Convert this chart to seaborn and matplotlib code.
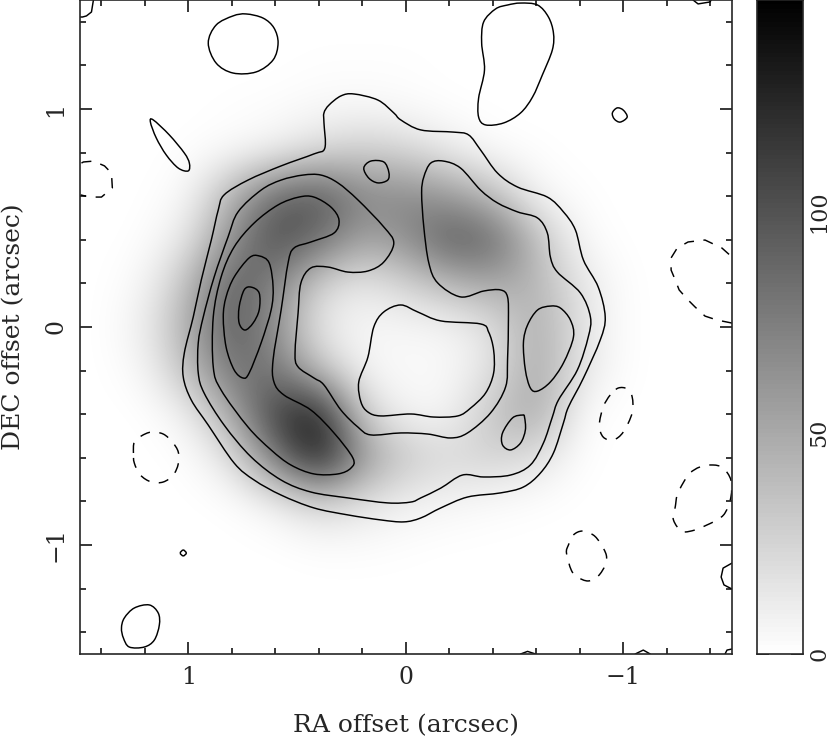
import numpy as np
import matplotlib
matplotlib.use('Agg')
import matplotlib.pyplot as plt
from matplotlib.patches import PathPatch
from matplotlib.path import Path
from matplotlib.ticker import MultipleLocator, FixedLocator
import seaborn as sns

grid_ra = [1.6, 1.4, 1.2, 1.0, 0.8, 0.6, 0.4, 0.2, 0.0, -0.2, -0.4, -0.6, -0.8, -1.0, -1.2, -1.4, -1.6]
grid_dec = grid_ra
flux = [
    [0, 0, 0, 0, 0, 0, 0, 0, 0, 0, 0, 0, 0, 0, 0, 0, 0],
    [0, 0, 0, 0, 0, 0, 0, 0, 0, 0, 0, 0, 0, 0, 0, 0, 0],
    [0, 0, 0, 0, 0, 0, 1, 1, 1, 0, 0, 0, 0, 0, 0, 0, 0],
    [0, 0, 0, 0, 1, 2, 4, 5, 3, 1, 0, 0, 0, 0, 0, 0, 0],
    [0, 0, 0, 1, 4, 9, 22, 30, 25, 12, 3, 1, 0, 0, 0, 0, 0],
    [0, 0, 0, 5, 45, 90, 100, 70, 70, 60, 38, 6, 1, 0, 0, 0, 0],
    [0, 0, 1, 15, 65, 105, 85, 52, 65, 98, 90, 38, 4, 0, 0, 0, 0],
    [0, 0, 5, 38, 95, 72, 25, 12, 25, 40, 52, 43, 15, 1, 0, 0, 0],
    [0, 0, 10, 48, 98, 64, 12, 5, 5, 6, 17, 50, 17, 1, 0, 0, 0],
    [0, 0, 5, 38, 81, 81, 35, 6, 3, 4, 17, 52, 15, 1, 0, 0, 0],
    [0, 0, 0, 9, 50, 113, 135, 26, 6, 6, 35, 52, 3, 0, 0, 0, 0],
    [0, 0, 0, 1, 17, 78, 135, 61, 32, 23, 26, 17, 1, 0, 0, 0, 0],
    [0, 0, 0, 0, 1, 9, 26, 17, 9, 6, 3, 1, 0, 0, 0, 0, 0],
    [0, 0, 0, 0, 0, 0, 2, 2, 1, 0, 0, 0, 0, 0, 0, 0, 0],
    [0, 0, 0, 0, 0, 0, 0, 0, 0, 0, 0, 0, 0, 0, 0, 0, 0],
    [0, 0, 0, 0, 0, 0, 0, 0, 0, 0, 0, 0, 0, 0, 0, 0, 0],
    [0, 0, 0, 0, 0, 0, 0, 0, 0, 0, 0, 0, 0, 0, 0, 0, 0],
]

# contours (arcsec)
outer_ra = [.239, .298, .353, .376, .376, .372, .422, .573, .725, .835, .862, .894, .940, .977, 1.018, 1.023, .986, .908, .789, .697, .573, .422, .266, .115, .009, -.069, -.161, -.284, -.436, -.541, -.619, -.679, -.725, -.748, -.817, -.894, -.917, -.885, -.817, -.780, -.725, -.651, -.514, -.422, -.344, -.289, -.220, -.069, .023, .055, .128]
outer_dec = [1.069, 1.060, 1.018, .982, .936, .821, .794, .739, .674, .606, .537, .399, .216, .046, -.119, -.229, -.335, -.450, -.624, -.702, -.771, -.830, -.862, -.885, -.894, -.876, -.830, -.780, -.761, -.734, -.670, -.578, -.440, -.367, -.234, -.060, .046, .183, .307, .445, .528, .596, .642, .706, .812, .881, .894, .904, .950, .982, 1.041]

ring_ra = [.390, .472, .573, .665, .771, .817, .881, .931, .954, .954, .927, .835, .711, .573, .436, .266, .083, -.023, -.069, -.161, -.261, -.358, -.482, -.573, -.633, -.674, -.702, -.789, -.839, -.849, -.803, -.697, -.665, -.651, -.606, -.514, -.422, -.344, -.252, -.174, -.115, -.083, -.073, -.083, -.106, -.147, -.252, -.358, -.436, -.468, -.472, -.468, -.459, -.390, -.284, -.206, -.101, .023, .161, .220, .298, .376, .422, .495, .509, .495, .482, .436, .358, .266, .174, .101, .055, .101, .220, .312]
ring_dec = [.697, .697, .674, .628, .528, .413, .229, .046, -.073, -.211, -.303, -.450, -.596, -.702, -.757, -.784, -.807, -.803, -.784, -.739, -.679, -.688, -.679, -.633, -.532, -.413, -.335, -.197, -.046, .046, .156, .252, .321, .431, .500, .528, .569, .628, .729, .761, .752, .688, .615, .459, .294, .202, .138, .165, .170, .138, .032, -.151, -.275, -.394, -.486, -.509, -.491, -.486, -.495, -.459, -.381, -.266, -.234, -.183, -.119, .064, .202, .271, .275, .252, .257, .298, .385, .459, .583, .661]

arc_ra = [.422, .491, .587, .697, .789, .849, .885, .885, .849, .725, .619, .528, .422, .312, .252, .243, .330, .436, .560, .606, .610, .573, .541, .514, .436, .330, .307, .344]
arc_dec = [.596, .596, .560, .477, .367, .229, .046, -.183, -.289, -.459, -.564, -.633, -.674, -.674, -.647, -.601, -.486, -.381, -.312, -.252, -.151, .078, .294, .362, .390, .431, .491, .550]

left_ra = [.674, .720, .789, .826, .839, .826, .789, .748, .720, .665, .619, .610, .628]
left_dec = [.326, .317, .229, .138, .046, -.092, -.197, -.234, -.211, -.073, .078, .183, .294]

core_ra = [.711, .743, .766, .766, .739, .702, .674, .674]
core_dec = [.183, .170, .092, .018, -.014, .018, .078, .156]

knot_ra = [.193, .161, .101, .078, .083, .128, .170]
knot_dec = [.729, .761, .757, .711, .674, .661, .683]

hole_ra = [-.023, .115, .174, .206, .216, .174, .147, .101, .023, -.055, -.161, -.344, -.381, -.404, -.404, -.367, -.298, -.239, -.128]
hole_dec = [-.399, -.408, -.390, -.344, -.252, -.138, 0, .069, .101, .069, .028, .014, -.023, -.106, -.211, -.303, -.372, -.408, -.413]

right_ra = [-.665, -.606, -.560, -.541, -.550, -.573, -.606, -.665, -.725, -.771, -.757, -.711]
right_dec = [.096, .078, .009, -.073, -.197, -.280, -.294, -.252, -.165, -.046, .032, .087]

spot_ra = [-.537, -.491, -.445, -.445, -.482, -.528, -.550, -.546]
spot_dec = [-.404, -.417, -.486, -.541, -.564, -.532, -.472, -.413]

oval_ra = [.908, .872, .794, .734, .656, .606, .587, .610, .688, .794, .872]
oval_dec = [1.303, 1.385, 1.427, 1.436, 1.417, 1.372, 1.303, 1.225, 1.170, 1.165, 1.211]

sliver_ra = [1.174, 1.161, 1.087, 1.018, .995, 1.000, 1.046, 1.101, 1.147]
sliver_dec = [.940, .950, .881, .798, .752, .716, .729, .789, .867]

lobe_ra = [-.528, -.606, -.656, -.679, -.674, -.628, -.583, -.528, -.450, -.367, -.335, -.335, -.362, -.349, -.358, -.413, -.468]
lobe_dec = [1.486, 1.477, 1.422, 1.349, 1.271, 1.156, 1.055, .982, .936, .927, .963, 1.050, 1.179, 1.303, 1.399, 1.459, 1.477]

ring_small_ra = [-.950, -.972, -1.000, -1.018, -.986, -.959]
ring_small_dec = [.982, 1.005, .995, .963, .940, .954]

foot_ra = [1.307, 1.294, 1.248, 1.179, 1.138, 1.133, 1.156, 1.202, 1.271, 1.298]
foot_dec = [-1.381, -1.335, -1.289, -1.275, -1.312, -1.367, -1.436, -1.468, -1.468, -1.427]

dot_ra = [1.037, 1.023, 1.009, 1.023]
dot_dec = [-1.037, -1.023, -1.037, -1.050]

# pieces cut by the frame
edge_tr_ra = [-1.321, -1.344, -1.399, -1.404]
edge_tr_dec = [1.5, 1.482, 1.491, 1.5]
edge_tl_ra = [1.436, 1.445, 1.468, 1.486, 1.5]
edge_tl_dec = [1.5, 1.445, 1.427, 1.422, 1.422]
edge_r_ra = [-1.5, -1.459, -1.450, -1.463, -1.5]
edge_r_dec = [-1.083, -1.106, -1.147, -1.183, -1.202]
edge_b1_ra = [-1.055, -1.092, -1.124]
edge_b1_dec = [-1.5, -1.482, -1.5]
edge_b2_ra = [-1.468, -1.477, -1.5]
edge_b2_dec = [-1.5, -1.482, -1.477]
edge_b3_ra = [-.528, -.56, -.597]
edge_b3_dec = [-1.5, -1.488, -1.5]

# negative contours
neg_a_ra = [-1.5, -1.431, -1.376, -1.330, -1.298, -1.257, -1.239, -1.220, -1.220, -1.248, -1.298, -1.376, -1.454, -1.5]
neg_a_dec = [.018, .032, .050, .092, .124, .170, .216, .261, .317, .362, .390, .399, .362, .321]
neg_b_ra = [-.940, -.908, -.890, -.908, -.954, -1.000, -1.041, -1.041, -1.018, -.977]
neg_b_dec = [-.312, -.367, -.450, -.505, -.518, -.482, -.394, -.321, -.284, -.280]
neg_c_ra = [-.739, -.748, -.771, -.812, -.862, -.894, -.922, -.917, -.885, -.839, -.789, -.761]
neg_c_dec = [-1.037, -1.000, -.954, -.936, -.954, -.991, -1.046, -1.092, -1.142, -1.165, -1.147, -1.115]
neg_d_ra = [-1.239, -1.248, -1.275, -1.307, -1.353, -1.413, -1.459, -1.495, -1.495, -1.468, -1.431, -1.385, -1.330, -1.275, -1.248, -1.229]
neg_d_dec = [-.826, -.771, -.716, -.670, -.642, -.633, -.647, -.702, -.780, -.853, -.885, -.908, -.931, -.940, -.917, -.876]
neg_e_ra = [1.252, 1.248, 1.216, 1.170, 1.115, 1.073, 1.046, 1.046, 1.069, 1.115, 1.170, 1.220, 1.248]
neg_e_dec = [-.578, -.528, -.500, -.482, -.491, -.528, -.573, -.628, -.679, -.711, -.711, -.679, -.624]
neg_f_ra = [1.491, 1.482, 1.436, 1.385, 1.353, 1.349, 1.399, 1.454, 1.495]
neg_f_dec = [.752, .757, .761, .739, .706, .638, .596, .596, .606]

closed = [(outer_ra, outer_dec), (ring_ra, ring_dec), (arc_ra, arc_dec), (left_ra, left_dec),
          (core_ra, core_dec), (knot_ra, knot_dec), (hole_ra, hole_dec), (right_ra, right_dec),
          (spot_ra, spot_dec), (oval_ra, oval_dec), (sliver_ra, sliver_dec), (lobe_ra, lobe_dec),
          (ring_small_ra, ring_small_dec), (foot_ra, foot_dec), (dot_ra, dot_dec)]
cut = [(edge_tr_ra, edge_tr_dec), (edge_tl_ra, edge_tl_dec), (edge_r_ra, edge_r_dec),
       (edge_b1_ra, edge_b1_dec), (edge_b2_ra, edge_b2_dec), (edge_b3_ra, edge_b3_dec)]
neg_closed = [(neg_b_ra, neg_b_dec), (neg_c_ra, neg_c_dec), (neg_d_ra, neg_d_dec), (neg_e_ra, neg_e_dec)]
neg_cut = [(neg_a_ra, neg_a_dec), (neg_f_ra, neg_f_dec)]

flux_max = 148
bar_major = [0, 50, 100]
DASH = (0, (7, 6.5))

sns.set_style('ticks')
plt.rcParams['font.family'] = ['DejaVu Serif']

W, H = 830, 736
fig = plt.figure(figsize=(W / 100, H / 100), dpi=100)
ax = fig.add_axes([79.5 / W, (H - 654) / H, 652.5 / W, 654 / H])
cax = fig.add_axes([757 / W, (H - 654) / H, 46 / W, 654 / H])

step = 0.1
ax.imshow(flux, cmap='gray_r', vmin=0, vmax=flux_max, interpolation='bicubic', aspect='auto',
          extent=(grid_ra[0] + step, grid_ra[-1] - step, grid_dec[-1] - step, grid_dec[0] + step))


def draw_closed(ra, dec, dashed=False):
    # bezier through the read points, the curve goes through each of them
    p = np.column_stack([ra, dec])
    verts = [p[0]]
    codes = [Path.MOVETO]
    n = len(p)
    for i in range(n):
        p0, p1, p2, p3 = p[i - 1], p[i], p[(i + 1) % n], p[(i + 2) % n]
        verts += [p1 + (p2 - p0) / 6, p2 - (p3 - p1) / 6, p2]
        codes += [Path.CURVE4] * 3
    ax.add_patch(PathPatch(Path(verts, codes), fill=False, edgecolor='k', linewidth=1.05,
                           linestyle=DASH if dashed else '-'))


def draw_cut(ra, dec, dashed=False):
    kw = {'linestyle': DASH} if dashed else {}
    sns.lineplot(x=ra, y=dec, sort=False, estimator=None, color='k', linewidth=1.05, ax=ax, **kw)


for ra, dec in closed:
    draw_closed(ra, dec)
for ra, dec in neg_closed:
    draw_closed(ra, dec, dashed=True)
for ra, dec in cut:
    draw_cut(ra, dec)
for ra, dec in neg_cut:
    draw_cut(ra, dec, dashed=True)

ax.set_xlim(1.5, -1.5)
ax.set_ylim(-1.5, 1.5)
ax.xaxis.set_major_locator(MultipleLocator(1))
ax.yaxis.set_major_locator(MultipleLocator(1))
ax.xaxis.set_minor_locator(MultipleLocator(0.2))
ax.yaxis.set_minor_locator(MultipleLocator(0.2))
ax.tick_params(which='both', direction='in', top=True, right=True, width=1.1, color='k')
ax.tick_params(which='major', length=8.5, labelsize=17, pad=9)
ax.tick_params(which='minor', length=4.5)
for lab in ax.get_yticklabels():
    lab.set_rotation(90)
    lab.set_va('center')
ax.set_xlabel('RA offset (arcsec)', fontsize=18, labelpad=17.5)
ax.set_ylabel('DEC offset (arcsec)', fontsize=18, labelpad=13.5)
for s in ax.spines.values():
    s.set_linewidth(1.2)

# wedge, one cell per flux unit
wedge_levels = np.arange(flux_max) + 0.5
sns.heatmap(wedge_levels[:, None], cmap='gray_r', vmin=0, vmax=flux_max, cbar=False,
            xticklabels=False, yticklabels=False, ax=cax)
cax.set_ylim(0, flux_max)
cax.yaxis.tick_right()
cax.yaxis.set_major_locator(FixedLocator(bar_major))
cax.yaxis.set_major_formatter('{x:.0f}')
cax.yaxis.set_minor_locator(MultipleLocator(10))
cax.tick_params(which='both', direction='in', left=True, right=True, width=1.1, color='k', labelright=True, labelleft=False)
cax.tick_params(which='major', length=8.5, labelsize=16, pad=4)
cax.tick_params(which='minor', length=4.5)
for lab in cax.get_yticklabels():
    lab.set_rotation(90)
    lab.set_va('center')
for s in cax.spines.values():
    s.set_visible(True)
    s.set_linewidth(1.2)

fig.savefig('out.png', dpi=100)
